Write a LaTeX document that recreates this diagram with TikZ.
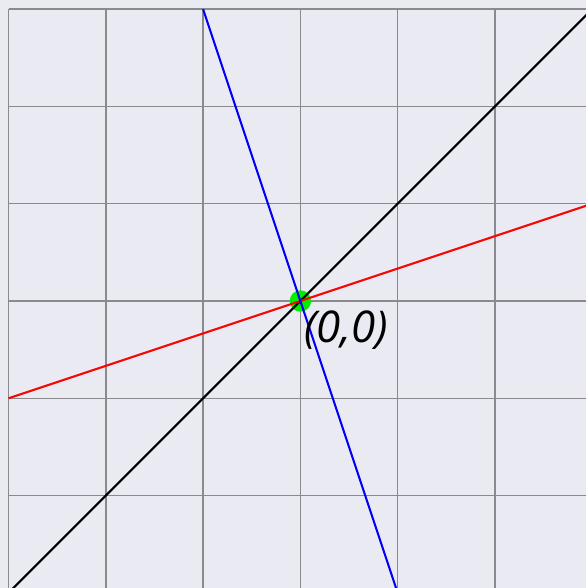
\documentclass[tikz,border=0pt]{standalone}
\usepackage{fontspec}
\setsansfont{Open Sans}
\usetikzlibrary{calc, positioning}

\definecolor{bgcol}{HTML}{EAEAF2}
\definecolor{gridcol}{HTML}{8A8A8E}
\definecolor{dotgreen}{HTML}{00EE00}

\begin{document}
\begin{tikzpicture}[x=1cm, y=1cm]
\def\xmin{-3.088}
\def\xmax{2.934}
\def\ymin{-2.950}
\def\ymax{3.094}

\fill[bgcol] (\xmin,\ymin) rectangle (\xmax,\ymax);
\useasboundingbox (\xmin,\ymin) rectangle (\xmax,\ymax);
\clip (\xmin,\ymin) rectangle (\xmax,\ymax);

\draw[gridcol, line width=0.45pt] (-3,-3) grid (3,3);

\coordinate (O) at (0,0);
\fill[dotgreen] (O) circle (0.11);

\draw[black, line width=0.6pt] (-3,-3) -- (3,3);
\draw[red, line width=0.6pt] (-3,-1) -- (3,1);
\draw[blue, line width=0.6pt] (-1,3) -- (1,-3);

\node[anchor=base west, inner sep=0pt, font=\sffamily\itshape\fontsize{12.8}{15}\selectfont] (lab) at (0.03,-0.43) {(0,0)};
\end{tikzpicture}
\end{document}
